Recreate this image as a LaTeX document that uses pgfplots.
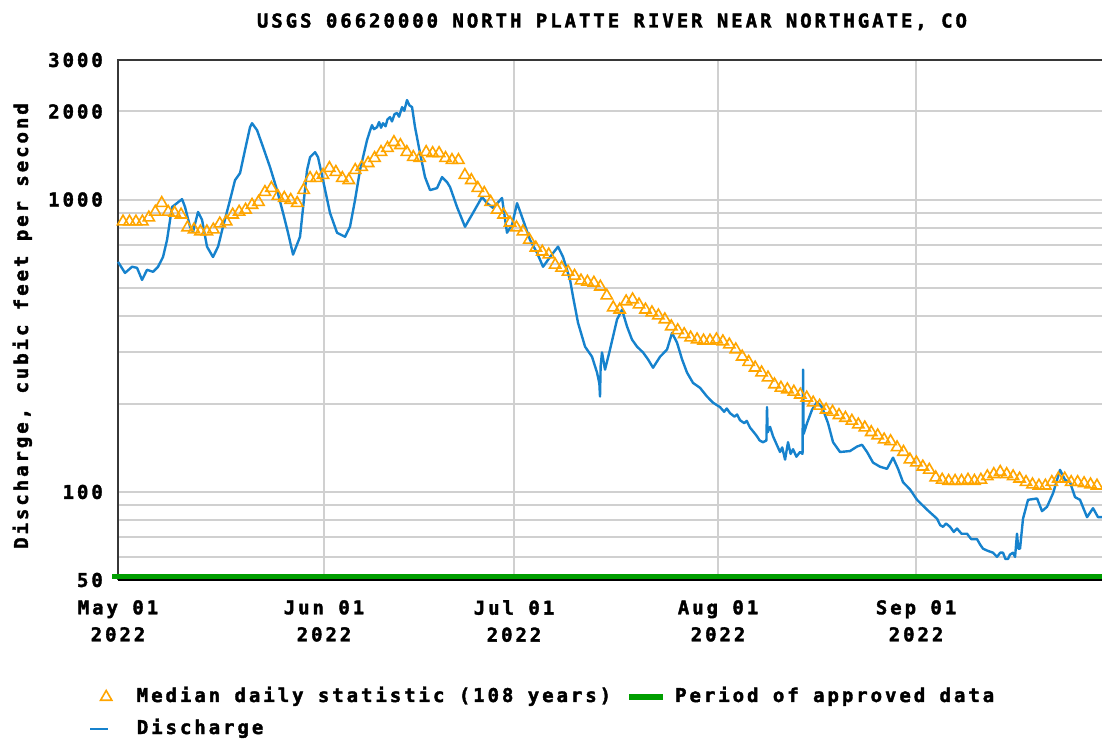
\documentclass[border=0pt]{standalone}
\usepackage{fontspec}
\setmainfont{DejaVu Sans Mono}[LetterSpace=15.5, BoldFont={DejaVu Sans Mono Bold}, BoldFeatures={FakeBold=2}]
\usepackage{pgfplots}
\pgfplotsset{compat=1.18}
\usepackage{pgfplotstable}
\definecolor{qblue}{RGB}{22,130,205}
\definecolor{qorange}{RGB}{255,165,0}
\definecolor{qgreen}{RGB}{0,158,0}
\definecolor{qgrid}{RGB}{208,208,208}
\definecolor{qframe}{RGB}{55,55,55}
\newcommand\lbl{\fontsize{19}{27}\selectfont\bfseries}

\pgfplotstableread{
day value
0 840
1 840
2 840
3 840
4 867
5 907
6 972
7 907
8 900
9 887
10 802
11 789
12 777
13 777
14 789
15 827
16 840
17 887
18 907
19 922
20 958
21 980
22 1060
23 1094
24 1027
25 1012
26 996
27 972
28 1077
29 1183
30 1183
31 1212
32 1280
33 1241
34 1183
35 1164
36 1260
37 1290
38 1331
39 1385
40 1452
41 1499
42 1570
43 1533
44 1452
45 1396
46 1385
47 1452
48 1440
49 1440
50 1385
51 1363
52 1363
53 1212
54 1164
55 1094
56 1052
57 980
58 922
59 887
60 833
61 802
62 777
63 728
64 684
65 663
66 648
67 598
68 584
69 566
70 548
71 528
72 523
73 519
74 503
75 469
76 427
77 420
78 448
79 455
80 437
81 420
82 411
83 401
84 389
85 368
86 357
87 346
88 337
89 332
90 329
91 329
92 332
93 327
94 319
95 307
96 290
97 278
98 266
99 256
100 246
101 233
102 227
103 224
104 220
105 215
106 210
107 202
108 197
109 191
110 188
111 183
112 179
113 175
114 170
115 166
116 160
117 156
118 151
119 149
120 142
121 137
122 129
123 126
124 122
125 119
126 112
127 110
128 109
129 109
130 109
131 110
132 109
133 110
134 113
135 115
136 117
137 115
138 113
139 111
140 108
141 106
142 105
143 105
144 108
145 111
146 111
147 108
148 108
149 107
150 106
151 105
}\mediantable

\pgfplotstableread{
day value
-0.78 612
0.31 561
1.40 589
2.17 584
2.95 531
3.72 575
4.65 566
5.43 589
6.20 636
6.82 727
7.60 943
8.37 972
9.15 1003
9.61 943
10.39 807
10.85 776
11.63 907
12.25 852
13.02 690
13.95 636
14.73 690
15.50 807
16.59 996
17.36 1164
18.14 1231
18.91 1476
19.69 1768
20.00 1824
20.78 1726
21.71 1511
22.79 1290
23.88 1077
24.81 900
25.58 770
26.36 648
27.44 746
28.53 1260
29.00 1396
29.77 1452
30.23 1396
31.01 1164
32.09 900
33.18 770
34.42 746
35.19 807
35.97 996
36.74 1260
37.83 1596
38.30 1720
38.60 1796
38.90 1740
39.38 1768
39.70 1840
40.00 1760
40.31 1824
40.70 1780
41.00 1880
41.40 1913
41.70 1850
42.10 1960
42.48 1976
42.80 1920
43.26 2070
43.60 2010
44.03 2188
44.40 2100
44.81 2070
45.27 1768
46.05 1440
46.82 1193
47.60 1077
48.68 1094
49.46 1193
50.23 1147
50.70 1103
51.78 943
53.02 807
54.26 900
55.66 1020
56.43 972
57.36 936
58.76 1012
59.53 770
60.31 819
61.09 972
62.02 852
63.10 728
64.19 657
65.12 589
66.20 636
67.44 690
68.22 636
69.30 532
69.77 465
70.54 379
71.63 314
72.71 290
73.49 256
73.85 235
73.95 212
74.05 270
74.26 300
74.73 262
75.50 307
76.59 389
77.36 420
78.14 368
78.91 332
79.69 314
80.62 300
81.40 284
82.17 266
83.26 290
84.34 307
85.12 350
85.89 324
86.67 284
87.44 256
88.37 236
89.46 227
90.54 212
91.47 202
92.56 195
93.20 188
93.60 193
94.11 186
94.80 181
95.20 184
95.66 176
96.30 172
96.70 175
97.21 166
97.80 160
98.29 155
98.70 150
99.22 148
99.75 150
99.84 195
99.95 160
100.31 167
100.78 155
101.30 146
101.86 137
102.20 142
102.64 129
103.10 148
103.50 135
103.88 140
104.40 132
104.96 137
105.35 135
105.43 262
105.52 158
106.05 172
106.82 191
107.60 203
108.37 195
109.30 172
110.08 148
111.16 137
112.71 138
113.80 143
114.57 145
115.35 137
116.28 126
117.36 122
118.45 120
119.38 131
120.16 120
120.93 108
122.02 102
123.10 94
124.65 87
126.20 81
126.70 77
127.13 76
127.60 78
128.22 76
128.80 73
129.30 75
130.00 72
130.85 72
131.50 69
132.40 69
132.90 66
133.33 64
134.00 63
134.88 62
135.50 60
136.00 62
136.43 62
136.80 59
137.21 59
137.50 61
137.98 62
138.30 60
138.60 72
138.80 64
139.07 64
139.53 81
140.31 94
141.71 95
142.48 86
143.26 89
144.19 99
145.27 119
146.05 110
146.82 108
147.60 96
148.37 94
149.46 82
150.39 88
151.16 82
151.78 82
}\dischargetable

\begin{document}
\begin{tikzpicture}[x=1pt,y=1pt]
\path[use as bounding box] (0,0) rectangle (1102,740);
\begin{axis}[
  at={(118pt,160pt)}, anchor=south west,
  scale only axis, width=984pt, height=520pt,
  ymode=log, ymin=50, ymax=3000,
  xmin=-0.78, xmax=151.78,
  clip=false,
  axis line style={draw=none},
  ytick={50,100,1000,2000,3000},
  yticklabels={50,100,1000,2000,3000},
  minor ytick={60,70,80,90,200,300,400,500,600,700,800,900},
  xtick={-0.78,31.16,60.62,92.25,122.95},
  xticklabels={{May 01\\2022},{Jun 01\\2022},{Jul 01\\2022},{Aug 01\\2022},{Sep 01\\2022}},
  major tick length=0pt, minor tick length=0pt,
  ymajorgrids, yminorgrids, xmajorgrids,
  major grid style={qgrid, line width=2pt},
  minor grid style={qgrid, line width=2pt},
  tick label style={font=\lbl},
  yticklabel style={anchor=east, inner sep=0pt, xshift=-15pt},
  xticklabel style={anchor=north, align=center, inner sep=0pt, yshift=-20pt},
  legend columns=2,
  legend cell align=left,
  legend style={draw=none, fill=none, font=\lbl, inner sep=0pt, outer sep=0pt,
     at={(-0.02947,-0.20769)}, anchor=north west,
     nodes={inner sep=0pt, text height=14pt, text depth=4pt},
     row sep=14pt,
     /tikz/column 1/.style={column sep=25pt},
     /tikz/column 2/.style={column sep=15pt},
     /tikz/column 3/.style={column sep=9pt}},
]
\draw[qframe, line width=2.5pt] (rel axis cs:0,0) -- (rel axis cs:0,1) -- (rel axis cs:1,1);
\draw[black, line width=1.5pt] (rel axis cs:0,0) -- (rel axis cs:1,0);

\addplot[only marks, mark=triangle, mark size=6.5pt, qorange,
  mark options={qorange, line width=1.6pt, fill=none},
  legend image code/.code={\draw[qorange, line width=1.6pt, mark=triangle, mark size=6.5pt, only marks] plot coordinates {(16pt,0pt)};}]
  table[x=day, y=value] {\mediantable};
\addlegendentry{Median daily statistic (108 years)}

\addplot[qgreen, line width=5pt, line cap=butt,
  legend image code/.code={\draw[qgreen, line width=6pt] (0pt,0pt) -- (34pt,0pt);}]
  coordinates {(-1.7,51.2) (151.78,51.2)};
\addlegendentry{Period of approved data}

\addplot[qblue, line width=2.4pt, line join=round,
  legend image code/.code={\draw[qblue, line width=2.4pt] (0pt,0pt) -- (18pt,0pt);}]
  table[x=day, y=value] {\dischargetable};
\addlegendentry{Discharge}
\end{axis}
\node[font=\lbl, anchor=base] at (612,712.5) {USGS 06620000 NORTH PLATTE RIVER NEAR NORTHGATE, CO};
\node[font=\lbl, rotate=90, anchor=base] at (28,414) {Discharge, cubic feet per second};
\end{tikzpicture}
\end{document}
